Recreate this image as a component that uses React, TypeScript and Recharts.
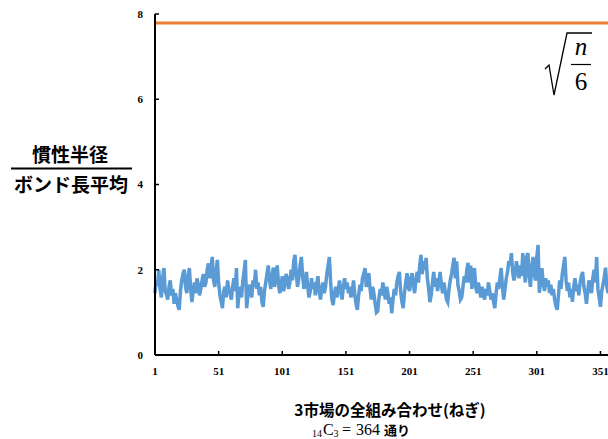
import React from "react";
import { LineChart, Line, XAxis, YAxis } from "recharts";

// 慣性半径 / ボンド長平均, one value per combination (1..364)
const radiusRatio = [
  1.45, 1.75, 1.62, 2.0, 1.55, 1.35, 1.8, 2.04, 1.5, 1.42, 1.3, 1.6, 1.75, 1.4, 1.55, 1.2, 1.45, 1.3, 1.15, 1.06,
  1.5, 1.75, 1.9, 2.0, 1.6, 1.45, 1.85, 2.04, 1.55, 1.24, 1.5, 1.7, 1.45, 1.8, 1.65, 1.4, 1.55, 1.75, 1.9, 1.6,
  1.7, 2.0, 2.15, 1.8, 2.05, 2.3, 1.75, 1.6, 1.95, 2.23, 1.7, 1.4, 1.25, 1.1, 1.5, 1.6, 1.35, 1.75, 1.55, 1.45,
  1.3, 1.6, 1.8, 1.5, 2.04, 1.1, 1.45, 1.6, 1.35, 1.75, 1.95, 2.23, 1.1, 1.4, 1.65, 1.5, 1.35, 1.75, 1.6, 2.0,
  1.55, 1.7, 1.4, 1.6, 1.25, 1.13, 1.5, 1.7, 1.9, 2.1, 1.75, 1.55, 1.85, 2.05, 1.6, 1.9, 2.1, 1.7, 1.45, 1.6,
  1.85, 1.5, 1.65, 1.9, 1.8, 1.55, 1.7, 2.0, 1.75, 2.2, 2.35, 1.9, 1.6, 1.8, 2.1, 2.3, 1.85, 1.55, 1.7, 1.95,
  1.6, 1.35, 1.5, 1.8, 1.55, 1.7, 1.4, 1.65, 1.85, 1.5, 1.3, 1.55, 1.7, 1.45, 1.6, 1.9, 2.1, 2.3, 1.7, 1.3,
  1.17, 1.45, 1.6, 1.35, 1.55, 1.75, 1.5, 1.3, 1.6, 1.8, 1.55, 1.7, 1.45, 1.6, 1.35, 1.5, 1.75, 1.4, 1.2, 1.06,
  1.4, 1.65, 1.5, 1.8, 1.9, 2.04, 1.6, 1.75, 1.92, 1.55, 1.3, 1.6, 1.45, 1.2, 1.0, 1.03, 1.35, 1.55, 1.4, 1.7,
  1.5, 1.3, 1.6, 1.45, 1.2, 1.35, 0.98, 1.3, 1.55, 1.4, 1.7, 1.85, 1.95, 1.5, 1.25, 1.1, 1.45, 1.7, 1.92, 1.6,
  1.5, 1.8, 1.92, 1.65, 1.45, 1.75, 1.95, 1.7, 2.1, 2.35, 1.9, 2.2, 2.0, 2.28, 1.8, 1.55, 1.24, 1.4, 1.7, 1.95,
  1.6, 1.8, 1.5, 1.7, 1.95, 1.65, 1.45, 1.7, 1.5, 1.3, 1.24, 1.55, 1.75, 1.9, 2.1, 2.28, 1.8, 2.2, 1.65, 1.5,
  1.3, 1.35, 1.6, 1.85, 1.7, 2.0, 2.16, 1.7, 2.1, 1.55, 1.9, 2.04, 1.6, 1.45, 1.7, 1.55, 1.35, 1.6, 1.45, 1.3,
  1.55, 1.4, 1.7, 1.5, 1.3, 1.45, 1.25, 1.1, 1.45, 1.7, 1.55, 1.8, 2.04, 1.6, 1.3, 1.55, 1.8, 1.95, 2.2, 2.1,
  2.39, 1.95, 1.75, 1.9, 2.2, 2.0, 1.8, 2.1, 1.85, 2.39, 2.0, 1.7, 2.3, 2.39, 1.85, 1.6, 2.05, 2.3, 1.9, 1.75,
  2.3, 2.58, 1.46, 1.75, 2.04, 1.7, 1.5, 1.8, 1.6, 1.75, 1.45, 1.65, 1.4, 1.55, 1.3, 1.15, 1.06, 1.4, 1.75, 1.55,
  1.9, 2.1, 2.3, 1.75, 1.5, 1.7, 1.35, 1.55, 1.25, 1.6, 1.8, 1.5, 1.65, 1.4, 1.7, 1.85, 1.95, 1.6, 1.45, 1.2,
  1.5, 1.75, 1.6, 1.45, 1.8, 2.0, 1.7, 2.3, 1.55, 1.35, 1.13, 1.5, 1.65, 1.83, 2.05, 1.6, 1.45, 1.8, 1.7, 1.55,
  1.9, 1.65, 1.5, 1.75,
];

// sqrt(n/6) with n = 364
const sqrtNOver6 = 7.79;

const xTicks = [1, 51, 101, 151, 201, 251, 301, 351];
const yTicks = [0, 2, 4, 6, 8];

const data = radiusRatio.map((ratio, k) => ({
  combo: k + 1,
  ratio,
  limit: sqrtNOver6,
}));

const tickFont = {
  fill: "#000",
  fontSize: 11,
  fontWeight: 700,
  fontFamily: "'Liberation Serif', 'Times New Roman', serif",
};

const jpFont = "'Noto Sans CJK JP', 'Noto Sans', sans-serif";
const mathFont = "'Liberation Serif', 'DejaVu Serif', serif";

export default function App(): React.ReactElement {
  return (
    <div
      style={{
        position: "absolute",
        left: 0,
        top: 0,
        width: 608,
        height: 439,
        overflow: "hidden",
        background: "#fff",
      }}
    >
      <LineChart
        width={622}
        height={439}
        data={data}
        margin={{ top: 14, right: 5, bottom: 0, left: 0 }}
      >
        <XAxis
          dataKey="combo"
          type="number"
          domain={[1, 364]}
          ticks={xTicks}
          height={84}
          tick={tickFont}
          tickSize={-4}
          tickMargin={16}
          axisLine={{ stroke: "#000", strokeWidth: 2 }}
          tickLine={{ stroke: "#000", strokeWidth: 1.5 }}
        />
        <YAxis
          type="number"
          domain={[0, 8]}
          ticks={yTicks}
          width={155}
          tick={tickFont}
          tickSize={-4}
          tickMargin={16}
          axisLine={{ stroke: "#000", strokeWidth: 2 }}
          tickLine={{ stroke: "#000", strokeWidth: 1.5 }}
        />
        <Line
          type="linear"
          dataKey="ratio"
          stroke="#5B9BD5"
          strokeWidth={3.5}
          dot={false}
          isAnimationActive={false}
        />
        <Line
          type="linear"
          dataKey="limit"
          stroke="#ED7D31"
          strokeWidth={3}
          dot={false}
          isAnimationActive={false}
        />
      </LineChart>

      <svg
        width={608}
        height={439}
        style={{ position: "absolute", left: 0, top: 0, pointerEvents: "none" }}
      >
        {/* y axis title as a fraction */}
        <text x={70} y={162} textAnchor="middle" fontFamily={jpFont} fontWeight={700} fontSize={19} fill="#000">
          慣性半径
        </text>
        <line x1={11} x2={132} y1={168.5} y2={168.5} stroke="#000" strokeWidth={2} />
        <text x={71} y={192} textAnchor="middle" fontFamily={jpFont} fontWeight={700} fontSize={19} fill="#000">
          ボンド長平均
        </text>

        {/* x axis title */}
        <text x={390} y={416} textAnchor="middle" fontFamily={jpFont} fontWeight={700} fontSize={15.5} fill="#000">
          3市場の全組み合わせ(ねぎ)
        </text>
        <text y={435} fill="#000" fontFamily={mathFont}>
          <tspan x={312} dy={2} fontSize={10}>14</tspan>
          <tspan x={323} dy={-2} fontSize={16}>C</tspan>
          <tspan x={333.5} dy={2} fontSize={10}>3</tspan>
          <tspan x={342} dy={-2} fontSize={16}>=</tspan>
          <tspan x={356} fontSize={16}>364</tspan>
          <tspan x={384} fontSize={13} fontWeight={700} fontFamily={jpFont}>通り</tspan>
        </text>

        {/* sqrt(n/6) label */}
        <path
          d="M545 69 L549 65 L554 95 L567 33 L592 33"
          fill="none"
          stroke="#000"
          strokeWidth={1.3}
          strokeLinejoin="miter"
        />
        <text x={581} y={55} textAnchor="middle" fontFamily={mathFont} fontStyle="italic" fontSize={25} fill="#000">
          n
        </text>
        <line x1={571} x2={591} y1={64.5} y2={64.5} stroke="#000" strokeWidth={1.2} />
        <text x={581} y={90} textAnchor="middle" fontFamily={mathFont} fontSize={25} fill="#000">
          6
        </text>
      </svg>
    </div>
  );
}
